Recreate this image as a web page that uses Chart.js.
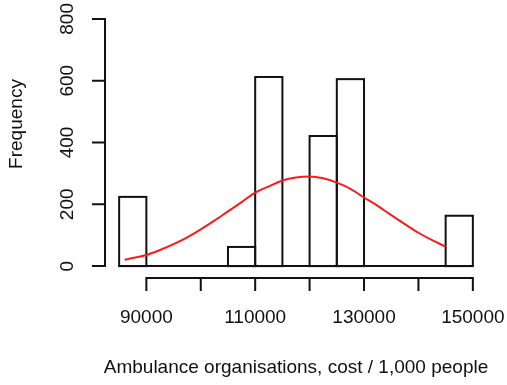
<!DOCTYPE html>
<html>
<head>
<meta charset="utf-8">
<script src="https://cdn.jsdelivr.net/npm/chart.js@4"></script>
<style>
  html, body { margin: 0; padding: 0; background: #fff; }
  #wrap { width: 507px; height: 385px; }
</style>
</head>
<body>
<div id="wrap"><canvas id="histChart" width="507" height="385"></canvas></div>
<script>
// histogram bins (width 5000)
const binStarts = [85000, 90000, 95000, 100000, 105000, 110000, 115000, 120000, 125000, 130000, 135000, 140000, 145000];
const binCounts = [224, 0, 0, 0, 62, 612, 0, 421, 605, 0, 0, 0, 163];
const binWidth = 5000;

// red curve
const curveX = [86000, 88000, 90000, 92500, 95000, 97500, 100000, 102500, 105000, 107500, 110000, 112500, 115000, 117500, 120000, 122500, 125000, 127500, 130000, 132500, 135000, 137500, 140000, 142500, 145000];
const curveY = [21, 28, 36, 52, 71, 93, 119, 147, 177, 207, 238, 258, 277, 287, 290, 284, 270, 250, 222, 195, 165, 136, 108, 84, 63];

// axis ticks
const xTicks = [90000, 100000, 110000, 120000, 130000, 140000, 150000];
const xTickLabels = ["90000", "", "110000", "", "130000", "", "150000"];
const yTicks = [0, 200, 400, 600, 800];

const xTitle = "Ambulance organisations, cost / 1,000 people";
const yTitle = "Frequency";

const FONT = '"Liberation Sans", Arial, sans-serif';
const INK = "#111";

// R-style axes and bar outlines (strokes centred on the edges like hist())
const rAxes = {
  id: "rAxes",
  beforeDatasetsDraw(chart) {
    const ctx = chart.ctx;
    const xs = chart.scales.x;
    const ys = chart.scales.y;
    ctx.save();
    ctx.strokeStyle = INK;
    ctx.lineWidth = 2;
    ctx.lineCap = "square";

    // baseline under all bins
    const y0 = ys.getPixelForValue(0);
    ctx.beginPath();
    ctx.moveTo(xs.getPixelForValue(binStarts[0]), y0);
    ctx.lineTo(xs.getPixelForValue(binStarts[binStarts.length - 1] + binWidth), y0);
    ctx.stroke();

    // x axis
    const ax = chart.chartArea.bottom + 2;
    ctx.beginPath();
    ctx.moveTo(xs.getPixelForValue(xTicks[0]), ax);
    ctx.lineTo(xs.getPixelForValue(xTicks[xTicks.length - 1]), ax);
    xTicks.forEach(v => {
      const px = xs.getPixelForValue(v);
      ctx.moveTo(px, ax);
      ctx.lineTo(px, ax + 12);
    });
    ctx.stroke();

    ctx.fillStyle = INK;
    ctx.font = "19px " + FONT;
    ctx.textAlign = "center";
    ctx.textBaseline = "middle";
    xTicks.forEach((v, i) => {
      if (xTickLabels[i]) ctx.fillText(xTickLabels[i], xs.getPixelForValue(v), ax + 40);
    });
    ctx.fillText(xTitle, 296, 368);

    // y axis
    const ay = chart.chartArea.left;
    ctx.beginPath();
    ctx.moveTo(ay, ys.getPixelForValue(yTicks[0]));
    ctx.lineTo(ay, ys.getPixelForValue(yTicks[yTicks.length - 1]));
    yTicks.forEach(v => {
      const py = ys.getPixelForValue(v);
      ctx.moveTo(ay, py);
      ctx.lineTo(ay - 12, py);
    });
    ctx.stroke();

    yTicks.forEach(v => {
      ctx.save();
      ctx.translate(ay - 37, ys.getPixelForValue(v));
      ctx.rotate(-Math.PI / 2);
      ctx.fillText(String(v), 0, 0);
      ctx.restore();
    });
    ctx.save();
    ctx.translate(17, 124);
    ctx.rotate(-Math.PI / 2);
    ctx.fillText(yTitle, 0, 0);
    ctx.restore();

    ctx.restore();
  },
  beforeDatasetDraw(chart, args) {
    // outline the bars just before the red curve is drawn
    if (args.index !== 0) return;
    const ctx = chart.ctx;
    ctx.save();
    ctx.strokeStyle = INK;
    ctx.lineWidth = 2;
    chart.getDatasetMeta(1).data.forEach((bar, i) => {
      if (!binCounts[i]) return;
      const p = bar.getProps(["x", "y", "base", "width"], true);
      ctx.strokeRect(p.x - p.width / 2, p.y, p.width, p.base - p.y);
    });
    ctx.restore();
  }
};

const barData = binStarts.map((s, i) => ({ x: s + binWidth / 2, y: binCounts[i] }));
const curveData = curveX.map((x, i) => ({ x: x, y: curveY[i] }));

new Chart(document.getElementById("histChart"), {
  type: "bar",
  data: {
    datasets: [
      {
        type: "line",
        data: curveData,
        borderColor: "#ff1a1a",
        borderWidth: 2,
        pointRadius: 0,
        cubicInterpolationMode: "monotone",
        fill: false,
        order: 0
      },
      {
        data: barData,
        backgroundColor: "rgba(0,0,0,0)",
        borderWidth: 0,
        inflateAmount: 0,
        barPercentage: 1,
        categoryPercentage: 1,
        order: 1
      }
    ]
  },
  options: {
    responsive: false,
    animation: false,
    layout: { padding: { left: 105, right: 20, top: 9, bottom: 109 } },
    plugins: { legend: { display: false }, tooltip: { enabled: false } },
    scales: {
      x: { type: "linear", min: 82400, max: 152600, display: false, offset: false },
      y: { min: -32, max: 832, display: false }
    }
  },
  plugins: [rAxes]
});
</script>
</body>
</html>
